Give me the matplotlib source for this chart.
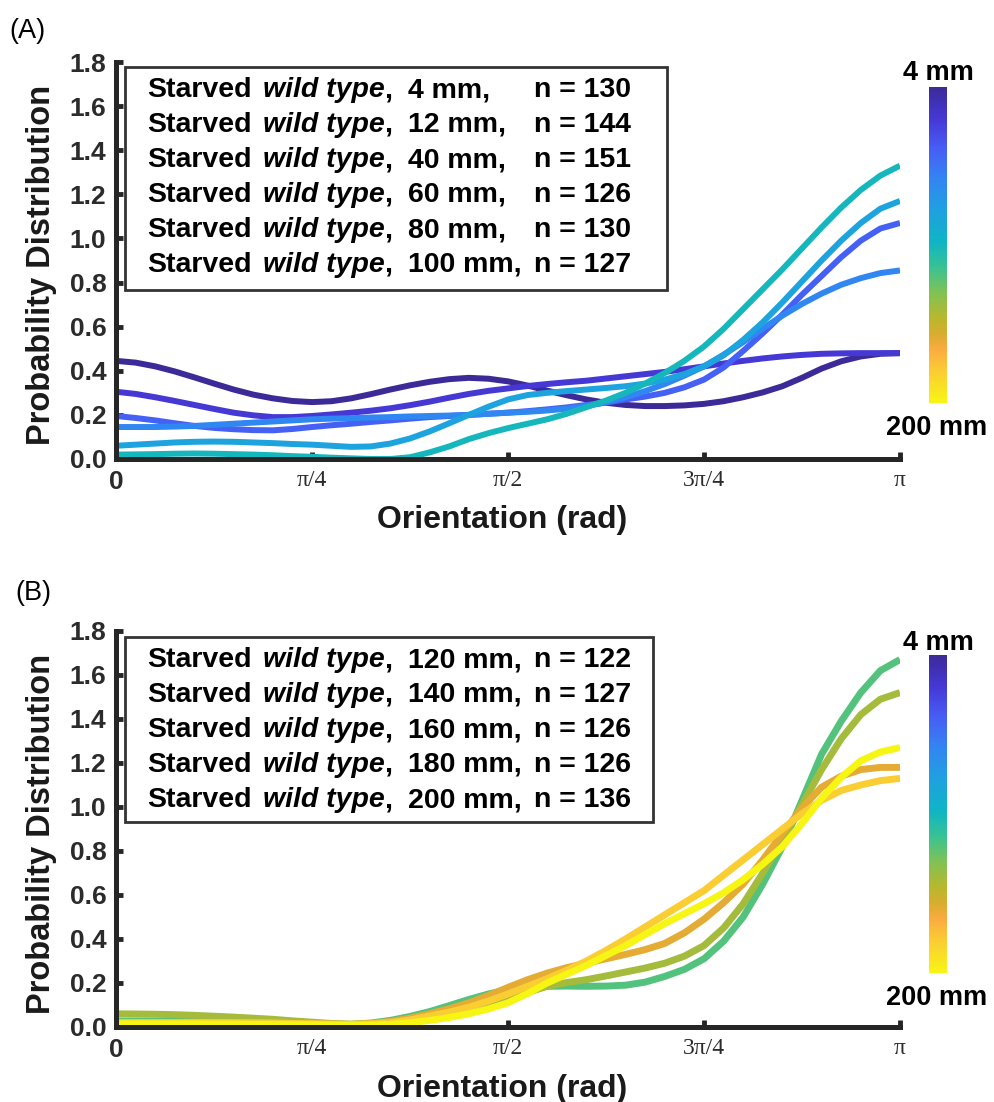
import numpy as np
import matplotlib
matplotlib.use("Agg")
import matplotlib.pyplot as plt
from matplotlib.colors import LinearSegmentedColormap, Normalize
from matplotlib.cm import ScalarMappable
from matplotlib.patches import Rectangle

# ---------------- data ----------------
orient_frac = [0.000, 0.025, 0.050, 0.075, 0.100, 0.125, 0.150, 0.175, 0.200, 0.225,
               0.250, 0.275, 0.300, 0.325, 0.350, 0.375, 0.400, 0.425, 0.450, 0.475,
               0.500, 0.525, 0.550, 0.575, 0.600, 0.625, 0.650, 0.675, 0.700, 0.725,
               0.750, 0.775, 0.800, 0.825, 0.850, 0.875, 0.900, 0.925, 0.950, 0.975,
               1.000]  # orientation / pi

dist_a = [4, 12, 40, 60, 80, 100]
n_a = [130, 144, 151, 126, 130, 127]
pd_a_4 = [0.445, 0.437, 0.42, 0.397, 0.37, 0.342, 0.315, 0.292, 0.275, 0.263,
          0.258, 0.262, 0.275, 0.294, 0.315, 0.334, 0.35, 0.362, 0.368, 0.364,
          0.352, 0.333, 0.31, 0.289, 0.27, 0.255, 0.245, 0.24, 0.24, 0.243,
          0.25, 0.262, 0.28, 0.302, 0.33, 0.368, 0.41, 0.443, 0.465, 0.477, 0.48]
pd_a_12 = [0.305, 0.295, 0.28, 0.263, 0.245, 0.227, 0.21, 0.198, 0.19, 0.19,
           0.195, 0.202, 0.21, 0.219, 0.23, 0.244, 0.26, 0.278, 0.295, 0.309,
           0.32, 0.331, 0.34, 0.348, 0.355, 0.365, 0.375, 0.385, 0.395, 0.407,
           0.42, 0.433, 0.445, 0.456, 0.465, 0.472, 0.477, 0.479, 0.48, 0.48, 0.48]
pd_a_40 = [0.195, 0.186, 0.175, 0.162, 0.15, 0.141, 0.135, 0.131, 0.13, 0.136,
           0.145, 0.153, 0.16, 0.168, 0.175, 0.183, 0.19, 0.195, 0.20, 0.205,
           0.21, 0.217, 0.225, 0.234, 0.245, 0.256, 0.27, 0.283, 0.30, 0.325,
           0.36, 0.415, 0.49, 0.57, 0.655, 0.745, 0.83, 0.915, 0.99, 1.045, 1.07]
pd_a_60 = [0.145, 0.145, 0.145, 0.147, 0.15, 0.155, 0.16, 0.165, 0.17, 0.175,
           0.18, 0.183, 0.185, 0.188, 0.19, 0.193, 0.195, 0.197, 0.20, 0.205,
           0.21, 0.214, 0.22, 0.228, 0.24, 0.257, 0.28, 0.308, 0.34, 0.378,
           0.42, 0.473, 0.53, 0.592, 0.65, 0.703, 0.75, 0.79, 0.82, 0.843, 0.855]
pd_a_80 = [0.06, 0.065, 0.07, 0.075, 0.078, 0.079, 0.078, 0.075, 0.072, 0.068,
           0.065, 0.06, 0.055, 0.057, 0.07, 0.093, 0.125, 0.162, 0.20, 0.237,
           0.27, 0.29, 0.30, 0.308, 0.315, 0.322, 0.33, 0.342, 0.36, 0.385,
           0.42, 0.47, 0.54, 0.62, 0.71, 0.805, 0.90, 0.99, 1.07, 1.135, 1.17]
pd_a_100 = [0.02, 0.021, 0.022, 0.024, 0.025, 0.024, 0.022, 0.02, 0.017, 0.013,
            0.01, 0.006, 0.003, 0.0, 0.0, 0.008, 0.03, 0.057, 0.09, 0.117,
            0.14, 0.16, 0.18, 0.205, 0.235, 0.265, 0.30, 0.342, 0.39, 0.445,
            0.51, 0.59, 0.68, 0.77, 0.86, 0.955, 1.05, 1.14, 1.22, 1.285, 1.33]
series_a = [pd_a_4, pd_a_12, pd_a_40, pd_a_60, pd_a_80, pd_a_100]

dist_b = [120, 140, 160, 180, 200]
n_b = [122, 127, 126, 126, 136]
pd_b_120 = [0.027, 0.027, 0.027, 0.027, 0.026, 0.025, 0.024, 0.022, 0.02, 0.017,
            0.015, 0.013, 0.012, 0.018, 0.03, 0.048, 0.07, 0.097, 0.125, 0.15,
            0.17, 0.18, 0.185, 0.186, 0.185, 0.186, 0.19, 0.204, 0.23, 0.262,
            0.31, 0.39, 0.50, 0.65, 0.82, 1.03, 1.24, 1.39, 1.52, 1.62, 1.67]
pd_b_140 = [0.06, 0.059, 0.058, 0.056, 0.053, 0.049, 0.045, 0.04, 0.035, 0.028,
            0.022, 0.016, 0.012, 0.014, 0.02, 0.033, 0.05, 0.069, 0.09, 0.11,
            0.13, 0.157, 0.185, 0.202, 0.215, 0.232, 0.25, 0.268, 0.29, 0.322,
            0.37, 0.45, 0.56, 0.70, 0.85, 1.01, 1.17, 1.31, 1.42, 1.49, 1.52]
pd_b_160 = [0.02, 0.02, 0.02, 0.02, 0.02, 0.02, 0.02, 0.019, 0.018, 0.016,
            0.015, 0.013, 0.012, 0.016, 0.025, 0.04, 0.06, 0.083, 0.11, 0.143,
            0.18, 0.215, 0.245, 0.27, 0.29, 0.31, 0.33, 0.352, 0.38, 0.428,
            0.49, 0.565, 0.65, 0.76, 0.88, 0.995, 1.09, 1.14, 1.17, 1.18, 1.18]
pd_b_180 = [0.02, 0.02, 0.02, 0.02, 0.02, 0.02, 0.02, 0.019, 0.018, 0.016,
            0.015, 0.013, 0.012, 0.014, 0.02, 0.032, 0.05, 0.068, 0.09, 0.118,
            0.15, 0.185, 0.22, 0.258, 0.30, 0.348, 0.40, 0.455, 0.51, 0.565,
            0.62, 0.69, 0.76, 0.83, 0.90, 0.97, 1.03, 1.075, 1.10, 1.12, 1.13]
pd_b_200 = [0.014, 0.014, 0.014, 0.014, 0.014, 0.013, 0.013, 0.012, 0.012, 0.011,
            0.01, 0.009, 0.008, 0.009, 0.012, 0.019, 0.03, 0.043, 0.06, 0.082,
            0.11, 0.152, 0.20, 0.24, 0.28, 0.325, 0.37, 0.42, 0.47, 0.515,
            0.56, 0.61, 0.67, 0.74, 0.82, 0.925, 1.04, 1.135, 1.21, 1.25, 1.27]
series_b = [pd_b_120, pd_b_140, pd_b_160, pd_b_180, pd_b_200]

all_dist = dist_a + dist_b
yticks = [0.0, 0.2, 0.4, 0.6, 0.8, 1.0, 1.2, 1.4, 1.6, 1.8]
ytick_labels = ["0.0", "0.2", "0.4", "0.6", "0.8", "1.0", "1.2", "1.4", "1.6", "1.8"]
xtick_frac = [0, 0.25, 0.5, 0.75, 1.0]
xtick_labels = ["0", "π/4", "π/2", "3π/4", "π"]

# parula-like colormap as seen on the colour bar
cmap_pos = [0.00, 0.10, 0.19, 0.29, 0.39, 0.49, 0.57, 0.65, 0.73, 0.78, 0.83, 0.90, 1.00]
cmap_rgb = [(0.235, 0.165, 0.60), (0.27, 0.22, 0.84), (0.28, 0.36, 0.96),
            (0.20, 0.52, 0.95), (0.12, 0.63, 0.88), (0.06, 0.71, 0.77),
            (0.22, 0.76, 0.58), (0.50, 0.76, 0.33), (0.72, 0.72, 0.18),
            (0.84, 0.68, 0.18), (0.98, 0.67, 0.25), (0.98, 0.80, 0.20),
            (0.97, 0.96, 0.08)]
cmap = LinearSegmentedColormap.from_list("parula_like", list(zip(cmap_pos, cmap_rgb)))

SANS = "Liberation Sans"
SERIF = "Liberation Serif"
DARK = "#262626"

W, H = 994, 1102
fig = plt.figure(figsize=(W / 100, H / 100), dpi=100)
renderer = fig.canvas.get_renderer()


def fx(px):
    return px / W


def fy(py):
    return 1 - py / H


x_vals = np.array(orient_frac) * np.pi


def make_axes(top_px, bottom_px):
    ax = fig.add_axes([fx(116), fy(bottom_px), 784 / W, (bottom_px - top_px) / H])
    ax.set_xlim(0, np.pi)
    ax.set_ylim(0, 1.8)
    for s in ["top", "right"]:
        ax.spines[s].set_visible(False)
    for s in ["left", "bottom"]:
        ax.spines[s].set_linewidth(3.6)
        ax.spines[s].set_color(DARK)
    ax.set_yticks(yticks)
    ax.set_yticklabels(ytick_labels, fontfamily=SANS, fontweight="bold",
                       fontsize=19, color="#2b2b2b")
    ax.set_xticks(np.array(xtick_frac) * np.pi)
    ax.set_xticklabels(xtick_labels)
    for i, lab in enumerate(ax.get_xticklabels()):
        lab.set_color("#2b2b2b")
        if i == 0:
            lab.set_fontfamily(SANS)
            lab.set_fontweight("bold")
            lab.set_fontsize(19)
        else:
            lab.set_fontfamily(SERIF)
            lab.set_fontsize(17)
    ax.tick_params(direction="in", length=5, width=3.5, color=DARK)
    ax.tick_params(axis="y", pad=7)
    ax.tick_params(axis="x", pad=8)
    return ax


ax_a = make_axes(62, 459)
ax_b = make_axes(631, 1027)

norm = Normalize(0, len(all_dist) - 1)
for i, ys in enumerate(series_a):
    ax_a.plot(x_vals, ys, color=cmap(norm(all_dist.index(dist_a[i]))), lw=4.3,
              solid_capstyle="butt", solid_joinstyle="round")
for i, ys in enumerate(series_b):
    ax_b.plot(x_vals, ys, color=cmap(norm(all_dist.index(dist_b[i]))), lw=5.0,
              solid_capstyle="butt", solid_joinstyle="round")

# axis labels
for base_x, yc in [(50, 264.5), (50, 834)]:
    fig.text(fx(base_x), fy(yc), "Probability Distribution", rotation=90,
             rotation_mode="anchor", ha="center", va="baseline",
             fontfamily=SANS, fontweight="bold", fontsize=23.5, color="#1a1a1a")
for yb in [528, 1097]:
    fig.text(fx(502), fy(yb), "Orientation (rad)", ha="center", va="baseline",
             fontfamily=SANS, fontweight="bold", fontsize=23, color="#1a1a1a")

# panel letters
fig.text(fx(9), fy(38), "(A)", ha="left", va="baseline", fontfamily=SANS, fontsize=19.5)
fig.text(fx(15), fy(600), "(B)", ha="left", va="baseline", fontfamily=SANS, fontsize=19.5)

# legend boxes
LFS = 20.5
lkw = dict(fontfamily=SANS, fontweight="bold", fontsize=LFS, color="black",
           ha="left", va="baseline")


def legend(box, baselines, dists, ns):
    x0, y0, x1, y1 = box
    fig.patches.append(Rectangle((fx(x0), fy(y1)), (x1 - x0) / W, (y1 - y0) / H,
                                 transform=fig.transFigure, facecolor="white",
                                 edgecolor="#333333", lw=2.0, zorder=1))
    for yb, d, n in zip(baselines, dists, ns):
        fig.text(fx(147), fy(yb), "Starved", **lkw)
        t = fig.text(fx(263), fy(yb), "wild type", style="italic", **lkw)
        wt = t.get_window_extent(renderer).width
        fig.text(fx(263 + wt - 1), fy(yb), ",", **lkw)
        fig.text(fx(408), fy(yb), f"{d} mm,", **lkw)
        fig.text(fx(534), fy(yb), f"n = {n}", **lkw)


legend((125, 67, 667, 290), [97, 132, 167, 202, 237, 272], dist_a, n_a)
legend((125, 637, 653, 822), [667, 702, 737, 772, 807], dist_b, n_b)

# colour bars
sm = ScalarMappable(norm=Normalize(4, 200), cmap=cmap)
for top, bot, lab_top, lab_bot in [(87, 403, 80, 435), (655, 973, 650, 1005)]:
    cax = fig.add_axes([fx(929), fy(bot), 18 / W, (bot - top) / H])
    cb = fig.colorbar(sm, cax=cax)
    cb.outline.set_visible(False)
    cb.set_ticks([])
    cax.invert_yaxis()
    fig.text(fx(938), fy(lab_top), "4 mm", ha="center", va="baseline",
             fontfamily=SANS, fontweight="bold", fontsize=19.5)
    fig.text(fx(937), fy(lab_bot), "200 mm", ha="center", va="baseline",
             fontfamily=SANS, fontweight="bold", fontsize=19.5)

fig.savefig("out.png", dpi=100)
